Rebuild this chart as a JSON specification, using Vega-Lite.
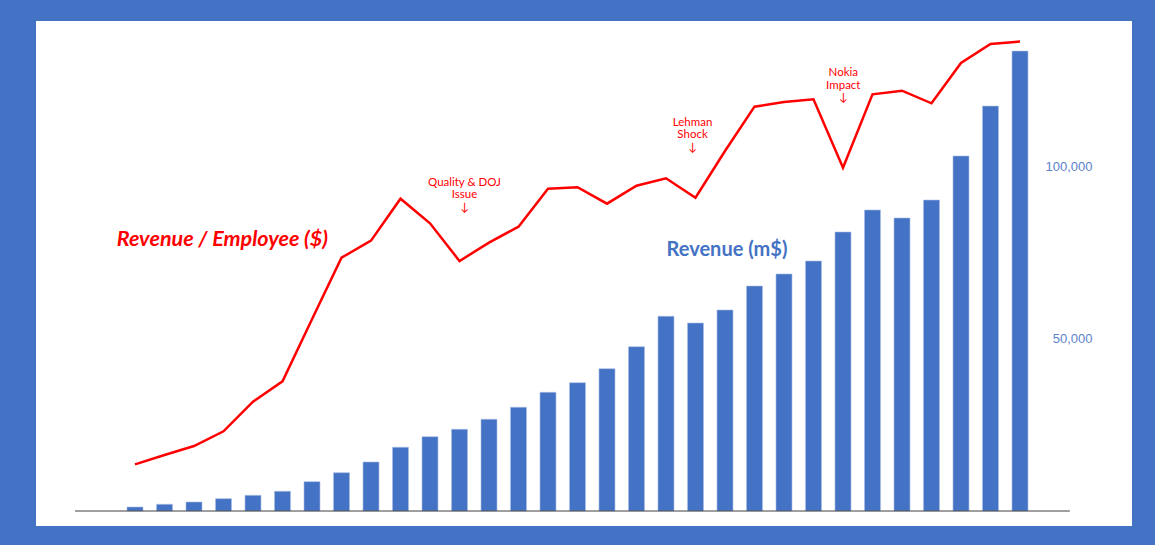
{
  "$schema": "https://vega.github.io/schema/vega-lite/v6.json",
  "width": 1096,
  "height": 505,
  "autosize": {"type": "none"},
  "padding": {"left": 36, "top": 21, "right": 23, "bottom": 19},
  "background": "#4472C4",
  "config": {"view": {"fill": "white", "stroke": null}, "font": "Lato"},
  "datasets": {
    "main": [
      {"year": 1990, "rev": 1160, "rpe": 207700},
      {"year": 1991, "rev": 1950, "rpe": 222500},
      {"year": 1992, "rev": 2620, "rpe": 236700},
      {"year": 1993, "rev": 3580, "rpe": 260000},
      {"year": 1994, "rev": 4560, "rpe": 306900},
      {"year": 1995, "rev": 5730, "rpe": 339200},
      {"year": 1996, "rev": 8520, "rpe": 437500},
      {"year": 1997, "rev": 11130, "rpe": 535000},
      {"year": 1998, "rev": 14240, "rpe": 562000},
      {"year": 1999, "rev": 18520, "rpe": 628500},
      {"year": 2000, "rev": 21600, "rpe": 589500},
      {"year": 2001, "rev": 23750, "rpe": 529800},
      {"year": 2002, "rev": 26660, "rpe": 558800},
      {"year": 2003, "rev": 30150, "rpe": 584200},
      {"year": 2004, "rev": 34500, "rpe": 644400},
      {"year": 2005, "rev": 37300, "rpe": 646600},
      {"year": 2006, "rev": 41370, "rpe": 620600},
      {"year": 2007, "rev": 47760, "rpe": 649100},
      {"year": 2008, "rev": 56600, "rpe": 660800},
      {"year": 2009, "rev": 54650, "rpe": 630100},
      {"year": 2010, "rev": 58430, "rpe": 704100},
      {"year": 2011, "rev": 65400, "rpe": 774300},
      {"year": 2012, "rev": 68900, "rpe": 781700},
      {"year": 2013, "rev": 72670, "rpe": 786000},
      {"year": 2014, "rev": 81100, "rpe": 677600},
      {"year": 2015, "rev": 87500, "rpe": 793900},
      {"year": 2016, "rev": 85170, "rpe": 799600},
      {"year": 2017, "rev": 90400, "rpe": 779600},
      {"year": 2018, "rev": 103200, "rpe": 843500},
      {"year": 2019, "rev": 117700, "rpe": 873600},
      {"year": 2020, "rev": 133700, "rpe": 877500}
    ],
    "notes": [
      {"label": "Quality & DOJ\nIssue\n↓", "year": 2001.17, "val": 95440},
      {"label": "Lehman\nShock\n↓", "year": 2008.9, "val": 112880},
      {"label": "Nokia\nImpact\n↓", "year": 2014.01, "val": 127240}
    ],
    "rpeLabel": [
      {"label": "Revenue / Employee ($)", "year": 1989.38, "val": 78780}
    ],
    "revLabel": [
      {"label": "Revenue (m$)", "year": 2008.02, "val": 75870}
    ],
    "base": [
      {"a": 1987.966, "b": 2021.69, "val": 0}
    ]
  },
  "encoding": {
    "x": {"field": "year", "type": "quantitative", "scale": {"domain": [1986.644, 2023.797], "nice": false, "zero": false, "padding": 0}, "axis": null}
  },
  "layer": [
    {
      "data": {"name": "main"},
      "mark": {"type": "bar", "width": 16, "color": "#4472C4", "stroke": "#A9BEE6", "strokeWidth": 0.6},
      "encoding": {
        "y": {"field": "rev", "type": "quantitative", "scale": {"domain": [-4360, 142440], "nice": false, "zero": false},
          "axis": {"orient": "right", "values": [50000, 100000], "format": ",d", "domain": false, "ticks": false, "tickSize": 0, "grid": false, "labelPadding": -40, "labelAlign": "right", "labelColor": "#5B82CC", "labelFont": "Liberation Sans", "labelFontSize": 13, "title": null}}
      }
    },
    {
      "data": {"name": "base"},
      "mark": {"type": "rule", "color": "#404040", "strokeWidth": 1.2},
      "encoding": {
        "x": {"field": "a", "type": "quantitative"},
        "x2": {"field": "b"},
        "y": {"field": "val", "type": "quantitative", "scale": {"domain": [-4360, 142440], "nice": false, "zero": false}, "axis": null}
      }
    },
    {
      "data": {"name": "notes"},
      "mark": {"type": "text", "color": "#FF0000", "font": "Lato", "fontSize": 11.5, "lineBreak": "\n", "lineHeight": 12.5, "align": "center", "baseline": "middle"},
      "encoding": {
        "y": {"field": "val", "type": "quantitative", "scale": {"domain": [-4360, 142440], "nice": false, "zero": false}, "axis": null},
        "text": {"field": "label", "type": "nominal"}
      }
    },
    {
      "data": {"name": "rpeLabel"},
      "mark": {"type": "text", "color": "#FF0000", "font": "Lato", "fontSize": 21.5, "fontWeight": "bold", "fontStyle": "italic", "align": "left", "baseline": "middle"},
      "encoding": {
        "y": {"field": "val", "type": "quantitative", "scale": {"domain": [-4360, 142440], "nice": false, "zero": false}, "axis": null},
        "text": {"field": "label", "type": "nominal"}
      }
    },
    {
      "data": {"name": "revLabel"},
      "mark": {"type": "text", "color": "#4472C4", "font": "Lato", "fontSize": 20, "fontWeight": "bold", "align": "left", "baseline": "middle"},
      "encoding": {
        "y": {"field": "val", "type": "quantitative", "scale": {"domain": [-4360, 142440], "nice": false, "zero": false}, "axis": null},
        "text": {"field": "label", "type": "nominal"}
      }
    },
    {
      "data": {"name": "main"},
      "mark": {"type": "line", "color": "#FF0000", "strokeWidth": 2.5},
      "encoding": {
        "y": {"field": "rpe", "type": "quantitative", "scale": {"domain": [110000, 910000], "nice": false, "zero": false}, "axis": null}
      }
    }
  ],
  "resolve": {"scale": {"y": "independent"}}
}
